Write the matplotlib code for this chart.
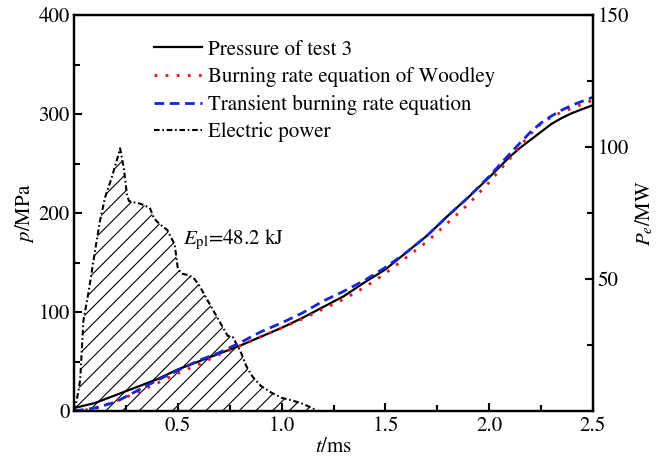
import numpy as np
import matplotlib
matplotlib.use("Agg")
import matplotlib.pyplot as plt
from matplotlib.ticker import MultipleLocator, FixedLocator

# ---- data ----
t_p = [0, 0.1, 0.2, 0.3, 0.4, 0.5, 0.6, 0.7, 0.8, 0.9, 1.0, 1.1, 1.2, 1.3,
       1.4, 1.5, 1.6, 1.7, 1.8, 1.9, 2.0, 2.1, 2.15, 2.2, 2.25, 2.3, 2.35,
       2.4, 2.45, 2.5]
p_test = [3, 8, 16, 24, 32, 42, 50, 58, 66, 75, 84, 94, 105, 116,
          130, 143, 160, 177, 197, 216, 236, 257, 266, 274, 282, 290, 296,
          301, 305, 309]
p_woodley = [0, 2, 10, 18, 28, 38, 47, 57, 66, 75, 84, 93, 103, 113,
             125, 139, 155, 171, 190, 209, 231, 255, 268, 280, 290, 297, 302,
             306, 310, 314]
p_transient = [0, 3, 9, 20, 31, 41, 51, 59, 69, 80, 89, 99, 111, 121,
               132, 145, 160, 177, 197, 216, 237, 260, 271, 282, 291, 298, 304,
               309, 313, 317]

t_e = [0, 0.01, 0.02, 0.03, 0.045, 0.07, 0.1, 0.125, 0.15, 0.18, 0.21, 0.222,
       0.24, 0.255, 0.265, 0.29, 0.32, 0.365, 0.385, 0.41, 0.45, 0.485, 0.5,
       0.52, 0.55, 0.575, 0.6, 0.65, 0.7, 0.74, 0.765, 0.785, 0.8, 0.83, 0.86,
       0.9, 0.95, 1.0, 1.05, 1.1, 1.15, 1.17]
P_e = [0, 3, 7, 12, 34, 45, 60, 72, 81, 88, 96, 99.5,
       92, 82, 79.5, 79, 78.5, 77, 73, 71, 68.5, 63, 54,
       52, 51.5, 50.5, 48, 41, 34, 28.5, 28, 25, 23, 17, 13,
       9.5, 7, 5, 4, 2.8, 1, 0]

plt.rcParams['font.family'] = ['STIXGeneral', 'DejaVu Serif']
plt.rcParams['mathtext.fontset'] = 'stix'
plt.rcParams['hatch.linewidth'] = 0.8

fig = plt.figure(figsize=(6.69, 4.57), dpi=100)
ax = fig.add_axes([74 / 669, 46 / 457, 519 / 669, 396 / 457])
ax2 = ax.twinx()

# electric power on right axis (drawn underneath)
ax2.fill_between(t_e, P_e, 0, facecolor='none', edgecolor='black', hatch='//', linewidth=0)
l4, = ax2.plot(t_e, P_e, color='black', lw=1.5, linestyle=(0, (2.7, 1.3, 0.8, 1.3)),
               label='Electric power')

# pressure curves on left axis (on top)
ax.set_zorder(ax2.get_zorder() + 1)
ax.patch.set_visible(False)
l1, = ax.plot(t_p, p_test, color='black', lw=1.6, label='Pressure of test 3')
l2, = ax.plot(t_p, p_woodley, color='#e8141c', lw=2, linestyle=(0, (1, 3)),
              label='Burning rate equation of Woodley')
l3, = ax.plot(t_p, p_transient, color='#1428d8', lw=2, linestyle=(0, (3.5, 2)),
              label='Transient burning rate equation')

ax.set_xlim(0, 2.5)
ax.set_ylim(0, 400)
ax2.set_ylim(0, 150)

ax.xaxis.set_major_locator(FixedLocator([0.5, 1.0, 1.5, 2.0, 2.5]))
ax.xaxis.set_minor_locator(MultipleLocator(0.25))
ax.yaxis.set_major_locator(MultipleLocator(100))
ax.yaxis.set_minor_locator(MultipleLocator(50))
ax2.yaxis.set_major_locator(FixedLocator([50, 100, 150]))
ax2.yaxis.set_minor_locator(FixedLocator([25, 75, 125]))

for a in (ax, ax2):
    a.tick_params(which='both', direction='in', width=1.5, labelsize=15)
    a.tick_params(which='major', length=6)
    a.tick_params(which='minor', length=4)
    for s in a.spines.values():
        s.set_linewidth(1.6)
ax.tick_params(axis='x', pad=4)
ax.tick_params(axis='y', pad=3)
ax2.tick_params(axis='y', pad=3)

ax.set_xlabel('$t$/ms', fontsize=15, labelpad=1)
ax.set_ylabel('$p$/MPa', fontsize=15, labelpad=2)
ax2.set_ylabel('$P_e$/MW', fontsize=15, labelpad=4)

ax.text(0.525, 173, r'$E_{\rm pl}$=48.2 kJ', fontsize=15, va='center', ha='left')

ax.legend(handles=[l1, l2, l3, l4], loc='upper left', bbox_to_anchor=(0.154, 0.937),
          frameon=False, fontsize=15, handlelength=2.3, handletextpad=0.3,
          labelspacing=0.35, borderpad=0, borderaxespad=0)

fig.savefig('out.png', dpi=100)
